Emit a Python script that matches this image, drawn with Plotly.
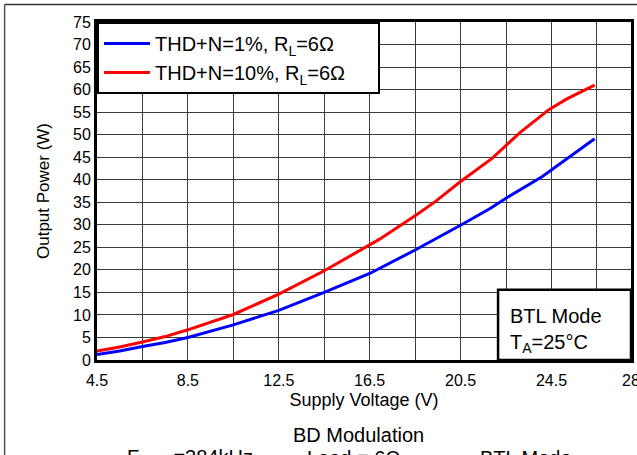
import plotly.graph_objects as go

# Output power vs supply voltage, BTL mode, 6 ohm load
voltage_1pct = [4.5, 5.5, 6.5, 7.5, 8.5, 10.5, 12.5, 14.5, 16.5, 18.5, 20.5, 21.8, 22.5, 24.1, 26.4]
power_1pct = [1.2, 2.0, 3.0, 3.9, 5.0, 7.8, 11.0, 15.0, 19.2, 24.4, 29.9, 33.6, 35.9, 40.7, 49.1]

voltage_10pct = [4.5, 5.5, 6.5, 7.5, 8.5, 10.5, 12.5, 14.5, 16.9, 18.5, 19.4, 20.5, 21.9, 23.1, 24.4, 25.2, 26.4]
power_10pct = [2.0, 2.9, 4.0, 5.2, 6.7, 10.1, 14.6, 19.8, 26.7, 32.0, 35.2, 39.6, 44.8, 50.4, 55.6, 58.0, 61.0]

series_names = ["THD+N=1%, R<sub>L</sub>=6Ω", "THD+N=10%, R<sub>L</sub>=6Ω"]
series_colors = ["#0000ff", "#ff0000"]

x_grid = [4.5, 6.5, 8.5, 10.5, 12.5, 14.5, 16.5, 18.5, 20.5, 22.5, 24.5, 26.5, 28]
x_labels = ["4.5", "", "8.5", "", "12.5", "", "16.5", "", "20.5", "", "24.5", "", "28"]
y_ticks = list(range(0, 80, 5))

caption_title = "BD Modulation"
caption_items = ["F<sub>PWM</sub>=384kHz", "Load = 6Ω", "BTL Mode"]

FONT = "Liberation Sans, Arial, sans-serif"
PAD = "\u00a0" * 5  # extra room on the right side of the legend box

fig = go.Figure()
for vx, py, name, color in zip([voltage_1pct, voltage_10pct], [power_1pct, power_10pct],
                               series_names, series_colors):
    fig.add_trace(go.Scatter(x=vx, y=py, mode="lines", name=name + PAD,
                             line=dict(color=color, width=3)))

fig.update_xaxes(range=[4.5, 28], tickvals=x_grid, ticktext=x_labels, automargin=False,
                 ticklabeloverflow="allow", ticklabelstandoff=4,
                 showgrid=True, gridcolor="#3a3a3a", gridwidth=1,
                 showline=True, linecolor="black", linewidth=3, mirror=True,
                 ticks="", zeroline=False,
                 tickfont=dict(family=FONT, size=16, color="black"),
                 title=dict(text="Supply Voltage (V)", standoff=6,
                            font=dict(family=FONT, size=18, color="black")))
fig.update_yaxes(range=[0, 75], tickvals=y_ticks, automargin=False,
                 showgrid=True, gridcolor="#3a3a3a", gridwidth=1,
                 showline=True, linecolor="black", linewidth=3, mirror=True,
                 ticks="", zeroline=False,
                 tickfont=dict(family=FONT, size=16, color="black"),
                 title=dict(text="Output Power (W)", standoff=20,
                            font=dict(family=FONT, size=17, color="black")))

# Test conditions box in the lower-right corner
fig.add_shape(type="rect", xref="x", yref="y", x0=22.15, x1=28, y0=0, y1=15.6,
              line=dict(color="black", width=2.5), fillcolor="white", layer="above")
fig.add_annotation(x=22.6, y=6.6, xref="x", yref="y", xanchor="left", yanchor="middle",
                   text="BTL Mode<br>T<sub>A</sub>=25°C", showarrow=False, align="left",
                   font=dict(family=FONT, size=20, color="black"))

# Caption below the chart
fig.add_annotation(x=0.49, y=-0.222, xref="paper", yref="paper", yanchor="middle",
                   text=caption_title, showarrow=False,
                   font=dict(family=FONT, size=20, color="black"))
for cx, txt in zip([0.052, 0.39, 0.714], caption_items):
    fig.add_annotation(x=cx, y=-0.29, xref="paper", yref="paper",
                       xanchor="left", yanchor="middle",
                       text=txt, showarrow=False,
                       font=dict(family=FONT, size=20, color="black"))

# Page frame lines
fig.add_shape(type="line", xref="paper", yref="paper", x0=-0.173, x1=1.02, y0=1.052, y1=1.052,
              line=dict(color="#333333", width=1.5))
fig.add_shape(type="line", xref="paper", yref="paper", x0=-0.173, x1=-0.173, y0=1.052, y1=-0.3,
              line=dict(color="#555555", width=1.5))

fig.update_layout(
    width=637, height=455,
    margin=dict(l=97, r=6, t=22, b=95, autoexpand=False),
    paper_bgcolor="white", plot_bgcolor="white",
    showlegend=True,
    legend=dict(x=0, y=1, xanchor="left", yanchor="top",
                bgcolor="white", bordercolor="black", borderwidth=2,
                font=dict(family=FONT, size=20, color="black"),
                itemwidth=46),
)

fig.write_html("out.html")
